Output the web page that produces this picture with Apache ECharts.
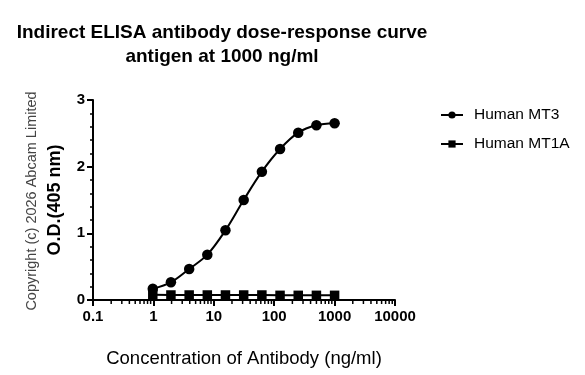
<!DOCTYPE html>
<html><head><meta charset="utf-8">
<script src="https://cdn.jsdelivr.net/npm/echarts@6/dist/echarts.min.js"></script>
<style>html,body{margin:0;padding:0;background:#fff}#c{width:585px;height:375px}</style>
</head><body><div id="c"></div>
<script>
var concentrations = [0.977, 1.95, 3.91, 7.81, 15.6, 31.25, 62.5, 125, 250, 500, 1000];
var mt3 = [0.17, 0.265, 0.465, 0.68, 1.045, 1.50, 1.925, 2.265, 2.51, 2.62, 2.65];
var mt1a = [0.08, 0.075, 0.075, 0.075, 0.075, 0.075, 0.075, 0.07, 0.07, 0.07, 0.07];
var xTickLabels = ['0.1', '1', '10', '100', '1000', '10000'];
var yTickLabels = ['0', '1', '2', '3'];

var minorX = [];
for (var d = 0; d < xTickLabels.length - 1; d++) {
  var base = parseFloat(xTickLabels[d]);
  for (var m = 2; m <= 9; m++) minorX.push([base * m]);
}
var font = 'Liberation Sans, Arial, sans-serif';
var chart = echarts.init(document.getElementById('c'));
chart.setOption({
  animation: false,
  backgroundColor: '#fff',
  title: {
    text: 'Indirect ELISA antibody dose-response curve\nantigen at 1000 ng/ml',
    left: 217, top: 16, textAlign: 'center',
    textStyle: { fontFamily: font, fontSize: 19, fontWeight: 'bold', color: '#000', lineHeight: 24 }
  },
  legend: {
    data: ['Human MT3', 'Human MT1A'],
    orient: 'vertical', left: 440, top: 107, itemGap: 13, padding: 0,
    itemWidth: 22, itemHeight: 9,
    textStyle: { fontFamily: font, fontSize: 15.5, color: '#000', padding: [0, 0, 0, 6] }
  },
  grid: { left: 93, top: 100, width: 302, height: 200, containLabel: false },
  xAxis: {
    type: 'log', min: 0.1, max: 10000, logBase: 10,
    name: 'Concentration of Antibody (ng/ml)', nameLocation: 'middle', nameGap: 49,
    nameTextStyle: { fontFamily: font, fontSize: 18.5, color: '#000' },
    axisLine: { lineStyle: { color: '#000', width: 2 } },
    axisTick: { length: 6, lineStyle: { color: '#000', width: 2 } },
    axisLabel: { fontFamily: font, fontSize: 15, fontWeight: 'bold', color: '#000', margin: 9,
      formatter: function (v) { return xTickLabels[Math.round(Math.log10(v)) + 1]; } },
    splitLine: { show: false }, minorTick: { show: false }
  },
  yAxis: {
    type: 'value', min: 0, max: 3, interval: 1,
    name: 'O.D.(405 nm)', nameLocation: 'middle', nameGap: 29,
    nameTextStyle: { fontFamily: font, fontSize: 18, fontWeight: 'bold', color: '#000' },
    axisLine: { show: true, lineStyle: { color: '#000', width: 2 } },
    axisTick: { show: true, length: 6, lineStyle: { color: '#000', width: 2 } },
    minorTick: { show: true, splitNumber: 5, length: 3, lineStyle: { color: '#000', width: 1.5 } },
    axisLabel: { fontFamily: font, fontSize: 15, fontWeight: 'bold', color: '#000', margin: 8,
      formatter: function (v) { return yTickLabels[v]; } },
    splitLine: { show: false }
  },
  graphic: [{
    type: 'text', x: 32, y: 201, rotation: Math.PI / 2,
    style: { text: 'Copyright (c) 2026 Abcam Limited', fontFamily: font, fontSize: 14.5, fill: '#444',
      textAlign: 'center', textVerticalAlign: 'middle' }
  }],
  series: [
    {
      name: 'Human MT3', type: 'line', smooth: 0.35,
      data: concentrations.map(function (c, i) { return [c, mt3[i]]; }),
      symbol: 'circle', symbolSize: 10.5,
      itemStyle: { color: '#000' }, lineStyle: { color: '#000', width: 2 }, z: 3
    },
    {
      name: 'Human MT1A', type: 'line',
      data: concentrations.map(function (c, i) { return [c, mt1a[i]]; }),
      symbol: 'rect', symbolSize: 9.5,
      itemStyle: { color: '#000' }, lineStyle: { color: '#000', width: 2 }, z: 2
    },
    {
      type: 'custom', silent: true, clip: false, data: minorX,
      renderItem: function (params, api) {
        var p = api.coord([api.value(0), 0]);
        return { type: 'line', shape: { x1: p[0], y1: p[1], x2: p[0], y2: p[1] + 4 },
          style: { stroke: '#000', lineWidth: 1.5 } };
      }
    }
  ]
});
</script></body></html>
